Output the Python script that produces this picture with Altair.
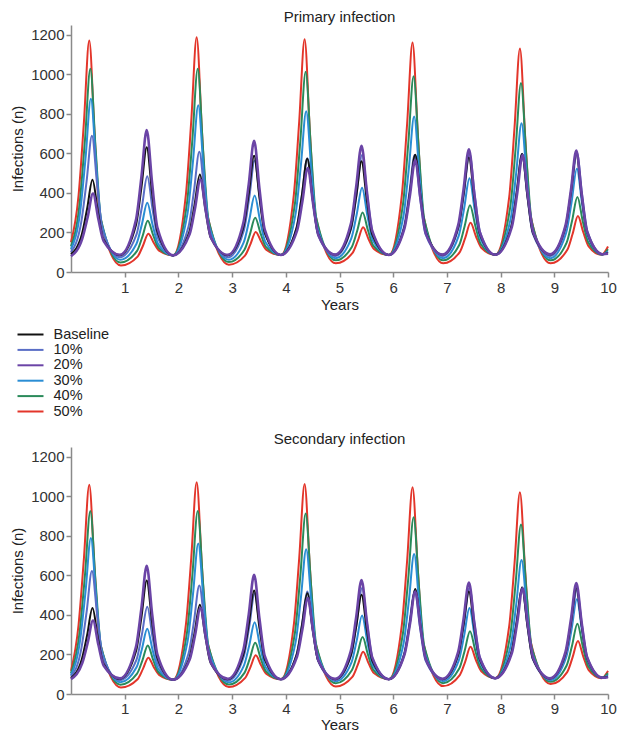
import altair as alt
import pandas as pd

series_names = ["Baseline", "10%", "20%", "30%", "40%", "50%"]
series_colors = ["#111111", "#5a6ec6", "#6b44a6", "#2a8dd4", "#2a8a5a", "#e3352a"]
draw_order = ["50%", "40%", "30%", "10%", "Baseline", "20%"]
panel_titles = ["Primary infection", "Secondary infection"]
x_ticks = [1, 2, 3, 4, 5, 6, 7, 8, 9, 10]
y_ticks = [0, 200, 400, 600, 800, 1000, 1200]

# time (years) of the read points, per series
t_50 = [0, 0.14, 0.24, 0.34, 0.44, 0.54, 0.93, 1.24, 1.34, 1.44, 1.54, 1.64, 1.90, 2.14, 2.24, 2.34, 2.44, 2.54, 2.94, 3.24, 3.34, 3.44, 3.54, 3.64, 3.91, 4.15, 4.25, 4.35, 4.45, 4.55, 4.93, 5.24, 5.34, 5.44, 5.54, 5.64, 5.92, 6.16, 6.26, 6.36, 6.46, 6.56, 6.93, 7.24, 7.34, 7.44, 7.54, 7.64, 7.90, 8.16, 8.26, 8.36, 8.46, 8.56, 8.93, 9.24, 9.34, 9.44, 9.54, 9.64, 9.88, 10.0]
t_40 = [0, 0.16, 0.26, 0.36, 0.46, 0.56, 0.92, 1.23, 1.33, 1.43, 1.53, 1.63, 1.90, 2.16, 2.26, 2.36, 2.46, 2.56, 2.94, 3.23, 3.33, 3.43, 3.53, 3.63, 3.91, 4.17, 4.27, 4.37, 4.47, 4.57, 4.93, 5.23, 5.33, 5.43, 5.53, 5.63, 5.92, 6.18, 6.28, 6.38, 6.48, 6.58, 6.93, 7.23, 7.33, 7.43, 7.53, 7.63, 7.90, 8.18, 8.28, 8.38, 8.48, 8.58, 8.93, 9.23, 9.33, 9.43, 9.53, 9.63, 9.89, 10.0]
t_30 = [0, 0.17, 0.27, 0.37, 0.47, 0.57, 0.92, 1.22, 1.32, 1.42, 1.52, 1.62, 1.90, 2.17, 2.27, 2.37, 2.47, 2.57, 2.94, 3.22, 3.32, 3.42, 3.52, 3.62, 3.91, 4.18, 4.28, 4.38, 4.48, 4.58, 4.93, 5.22, 5.32, 5.42, 5.52, 5.62, 5.92, 6.19, 6.29, 6.39, 6.49, 6.59, 6.93, 7.22, 7.32, 7.42, 7.52, 7.62, 7.90, 8.19, 8.29, 8.39, 8.49, 8.59, 8.93, 9.22, 9.32, 9.42, 9.52, 9.62, 9.89, 10.0]
t_10 = [0, 0.19, 0.29, 0.39, 0.49, 0.59, 0.91, 1.22, 1.32, 1.42, 1.52, 1.62, 1.90, 2.19, 2.29, 2.39, 2.49, 2.59, 2.93, 3.22, 3.32, 3.42, 3.52, 3.62, 3.91, 4.20, 4.30, 4.40, 4.50, 4.60, 4.92, 5.22, 5.32, 5.42, 5.52, 5.62, 5.92, 6.20, 6.30, 6.40, 6.50, 6.60, 6.92, 7.22, 7.32, 7.42, 7.52, 7.62, 7.90, 8.20, 8.30, 8.40, 8.50, 8.60, 8.92, 9.22, 9.32, 9.42, 9.52, 9.62, 9.90, 10.0]
t_base = [0, 0.20, 0.30, 0.40, 0.50, 0.60, 0.91, 1.21, 1.31, 1.41, 1.51, 1.61, 1.90, 2.20, 2.30, 2.40, 2.50, 2.60, 2.92, 3.21, 3.31, 3.41, 3.51, 3.61, 3.91, 4.20, 4.30, 4.40, 4.50, 4.60, 4.92, 5.21, 5.31, 5.41, 5.51, 5.61, 5.92, 6.21, 6.31, 6.41, 6.51, 6.61, 6.92, 7.21, 7.31, 7.41, 7.51, 7.61, 7.90, 8.20, 8.30, 8.40, 8.50, 8.60, 8.92, 9.21, 9.31, 9.41, 9.51, 9.61, 9.90, 10.0]
t_20 = [0, 0.21, 0.31, 0.41, 0.51, 0.61, 0.91, 1.21, 1.31, 1.41, 1.51, 1.61, 1.90, 2.21, 2.31, 2.41, 2.51, 2.61, 2.92, 3.21, 3.31, 3.41, 3.51, 3.61, 3.91, 4.21, 4.31, 4.41, 4.51, 4.61, 4.92, 5.21, 5.31, 5.41, 5.51, 5.61, 5.92, 6.21, 6.31, 6.41, 6.51, 6.61, 6.92, 7.21, 7.31, 7.41, 7.51, 7.61, 7.90, 8.21, 8.31, 8.41, 8.51, 8.61, 8.92, 9.21, 9.31, 9.41, 9.51, 9.61, 9.90, 10.0]

# Primary infection values
top_50 = [150, 385, 756, 1171, 693, 283, 33, 78, 133, 194, 148, 108, 84, 393, 768, 1188, 705, 290, 37, 83, 140, 203, 154, 112, 86, 392, 763, 1178, 702, 293, 44, 95, 157, 226, 167, 117, 86, 387, 753, 1161, 692, 290, 44, 101, 171, 249, 181, 123, 87, 379, 734, 1131, 674, 283, 44, 111, 192, 283, 201, 130, 87, 129]
top_40 = [130, 345, 668, 1028, 616, 264, 48, 107, 179, 259, 186, 123, 84, 348, 669, 1028, 617, 265, 50, 113, 189, 274, 195, 127, 86, 346, 661, 1013, 612, 269, 59, 127, 209, 301, 211, 133, 86, 339, 647, 991, 600, 264, 59, 137, 232, 338, 233, 142, 87, 330, 626, 956, 579, 256, 59, 149, 258, 380, 257, 152, 88, 115]
top_30 = [115, 303, 574, 877, 535, 241, 62, 143, 241, 350, 238, 143, 84, 297, 555, 844, 516, 234, 62, 153, 264, 387, 261, 152, 86, 290, 537, 813, 501, 233, 70, 170, 291, 427, 284, 161, 86, 282, 521, 787, 486, 228, 70, 183, 320, 474, 311, 172, 87, 273, 500, 753, 466, 220, 70, 197, 350, 522, 340, 184, 89, 104]
top_10 = [100, 251, 458, 690, 432, 210, 75, 190, 329, 484, 316, 172, 84, 231, 410, 609, 385, 192, 75, 212, 378, 564, 363, 191, 86, 223, 390, 576, 368, 189, 80, 223, 397, 592, 379, 197, 86, 228, 400, 592, 377, 193, 80, 226, 402, 600, 385, 200, 87, 230, 404, 598, 380, 194, 80, 226, 404, 603, 388, 203, 90, 100]
top_base = [90, 188, 320, 467, 307, 169, 85, 238, 424, 631, 401, 204, 84, 199, 338, 494, 322, 175, 85, 226, 397, 588, 377, 196, 86, 222, 388, 573, 369, 194, 87, 219, 380, 560, 361, 190, 86, 228, 401, 594, 381, 199, 87, 225, 393, 580, 373, 195, 87, 230, 403, 597, 383, 200, 88, 231, 404, 598, 385, 202, 90, 95]
top_20 = [80, 169, 277, 397, 267, 155, 87, 264, 478, 718, 452, 223, 84, 192, 323, 469, 309, 171, 87, 249, 445, 664, 421, 213, 86, 209, 359, 526, 342, 184, 88, 242, 430, 639, 407, 208, 86, 221, 384, 567, 366, 193, 88, 237, 418, 621, 397, 204, 87, 228, 400, 592, 381, 200, 90, 237, 415, 614, 394, 205, 90, 92]

# Secondary infection values
bot_50 = [117, 348, 684, 1059, 628, 259, 33, 75, 127, 184, 137, 97, 72, 352, 691, 1071, 636, 263, 35, 80, 135, 196, 145, 102, 75, 352, 688, 1063, 633, 264, 38, 87, 147, 214, 156, 106, 75, 347, 677, 1046, 623, 261, 40, 96, 163, 239, 172, 115, 80, 343, 663, 1021, 613, 264, 50, 111, 185, 268, 189, 121, 80, 117]
bot_40 = [105, 311, 601, 926, 557, 240, 47, 103, 170, 246, 173, 110, 72, 311, 601, 926, 557, 241, 48, 107, 179, 259, 182, 115, 75, 310, 595, 914, 553, 243, 54, 120, 199, 288, 199, 122, 75, 305, 583, 895, 542, 240, 55, 129, 218, 318, 218, 132, 80, 298, 562, 858, 524, 237, 62, 144, 244, 356, 241, 142, 82, 105]
bot_30 = [95, 273, 517, 790, 483, 220, 59, 135, 227, 330, 222, 129, 72, 265, 500, 762, 467, 214, 59, 144, 247, 363, 242, 138, 75, 259, 483, 733, 452, 211, 64, 157, 270, 397, 262, 146, 75, 252, 467, 708, 438, 206, 65, 169, 294, 435, 286, 158, 80, 247, 451, 678, 423, 204, 70, 185, 324, 480, 313, 170, 82, 95]
bot_10 = [88, 226, 414, 623, 391, 192, 70, 174, 301, 442, 287, 153, 72, 206, 368, 549, 347, 174, 68, 192, 342, 510, 327, 171, 75, 199, 350, 519, 330, 169, 70, 200, 359, 536, 342, 176, 75, 201, 354, 525, 335, 172, 72, 202, 360, 536, 344, 180, 80, 209, 365, 539, 344, 177, 75, 201, 354, 525, 339, 179, 82, 90]
bot_base = [80, 174, 297, 435, 285, 156, 77, 216, 385, 574, 363, 182, 72, 178, 308, 452, 294, 158, 75, 201, 353, 524, 335, 174, 75, 197, 345, 510, 327, 171, 75, 195, 340, 502, 323, 169, 75, 203, 358, 531, 339, 175, 75, 199, 350, 519, 335, 177, 80, 209, 365, 539, 345, 179, 78, 206, 362, 536, 345, 182, 82, 88]
bot_20 = [75, 156, 258, 372, 249, 143, 79, 239, 432, 649, 407, 199, 72, 174, 297, 435, 285, 156, 77, 224, 403, 603, 381, 191, 75, 190, 329, 485, 314, 167, 77, 217, 387, 577, 366, 185, 75, 199, 350, 519, 333, 174, 77, 213, 379, 564, 361, 186, 80, 207, 362, 535, 344, 180, 80, 215, 378, 561, 360, 187, 82, 85]

times = {"Baseline": t_base, "10%": t_10, "20%": t_20, "30%": t_30, "40%": t_40, "50%": t_50}
values = {
    "Primary infection": {"Baseline": top_base, "10%": top_10, "20%": top_20,
                          "30%": top_30, "40%": top_40, "50%": top_50},
    "Secondary infection": {"Baseline": bot_base, "10%": bot_10, "20%": bot_20,
                            "30%": bot_30, "40%": bot_40, "50%": bot_50},
}

rows = []
for panel in panel_titles:
    for s in draw_order:
        for t, v in zip(times[s], values[panel][s]):
            rows.append({"panel": panel, "series": s, "year": t, "infections": v})
df = pd.DataFrame(rows)

FONT = "Liberation Sans"
FS = 15

legend = alt.Legend(
    orient="none", legendX=-48, legendY=302, title=None,
    symbolType="M-2,0H2", symbolSize=169, symbolStrokeWidth=2,
    labelFontSize=14.5, labelFont=FONT, labelColor="#222222",
    rowPadding=0.4, labelOffset=15.5,
)


def panel_chart(title, height, lab_pad, tit_pad):
    d = df[df["panel"] == title]
    return alt.Chart(d, title=alt.TitleParams(
        title, fontSize=FS, fontWeight="normal", font=FONT, color="#222222",
        offset=0, anchor="middle")).mark_line(interpolate="monotone").encode(
        x=alt.X("year:Q", scale=alt.Scale(domain=[0, 10], nice=False),
                axis=alt.Axis(values=x_ticks, title="Years", format="d",
                              labelFlush=False, labelPadding=lab_pad,
                              titlePadding=tit_pad)),
        y=alt.Y("infections:Q", scale=alt.Scale(domain=[0, 1250], nice=False),
                axis=alt.Axis(values=y_ticks, title="Infections (n)", format="d",
                              labelPadding=2, titlePadding=5)),
        color=alt.Color("series:N", scale=alt.Scale(domain=series_names, range=series_colors),
                        legend=legend),
        strokeWidth=alt.condition(alt.datum.series == "20%", alt.value(2.6), alt.value(2)),
    ).properties(width=537, height=height)


chart = alt.vconcat(
    panel_chart(panel_titles[0], 247, 3, 2),
    panel_chart(panel_titles[1], 247, 2, 1),
    spacing=120,
).properties(
    padding={"left": 2, "top": 2, "right": 0, "bottom": 0}
).configure_view(stroke=None).configure_axis(
    grid=False, domainColor="#8a8a8a", tickColor="#8a8a8a", domainWidth=1.5,
    tickWidth=1.5, tickSize=5, labelFont=FONT, titleFont=FONT, labelFontSize=FS,
    titleFontSize=FS, titleFontWeight="normal", labelColor="#333333",
    titleColor="#222222",
)

chart.save("out.html", embed_options={"renderer": "svg", "actions": False})
